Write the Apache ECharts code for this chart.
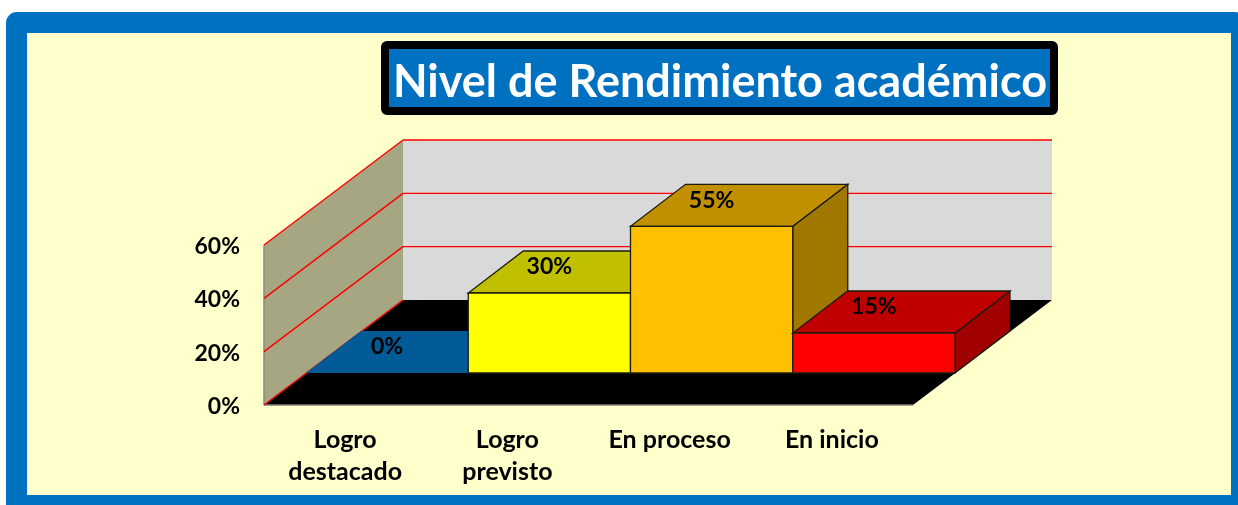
<!DOCTYPE html>
<html><head><meta charset="utf-8">
<style>html,body{margin:0;padding:0;background:#fff}#c{width:1238px;height:505px}</style>
<script src="https://cdn.jsdelivr.net/npm/echarts@6/dist/echarts.min.js"></script>
</head><body><div id="c"></div>
<script>
const titleText = 'Nivel de Rendimiento académico';
const categories = ['Logro\ndestacado', 'Logro\nprevisto', 'En proceso', 'En inicio'];
const values = [0, 30, 55, 15];
const ticks = [0, 20, 40, 60];
const frontColors = ['#0070c0', '#ffff00', '#ffc000', '#ff0000'];
const topColors = ['#005a96', '#c0c000', '#c09000', '#c00000'];
const sideColors = ['#004a7c', '#a0a000', '#a07800', '#a00000'];

const FONT = 'Lato';
const WALL = [139, -105], NEAR = [42, -32], FAR = [97, -74];
const shift = (p, o) => [p[0] + o[0], p[1] + o[1]];
const poly = (points, fill, stroke, lw, z2) => ({
  type: 'polygon', z2: z2 || 0, shape: { points },
  style: { fill, stroke: stroke || null, lineWidth: lw || 0 }
});
const seg = (a, b, stroke, lw, z2) => ({
  type: 'line', z2: z2 || 0, shape: { x1: a[0], y1: a[1], x2: b[0], y2: b[1] },
  style: { stroke, lineWidth: lw }
});

function renderWalls(params, api) {
  const last = categories.length - 1;
  const band = api.size([1, 0])[0];
  const left = api.coord([0, 0])[0] - band / 2;
  const right = api.coord([last, 0])[0] + band / 2;
  const y0 = api.coord([0, 0])[1];
  const yTop = api.coord([0, ticks[ticks.length - 1]])[1];
  const a = [left, y0], b = [right, y0], t = [left, yTop];
  const ch = [
    poly([shift(t, WALL), [right + WALL[0], yTop + WALL[1]], [right + WALL[0], y0 + WALL[1]], shift(a, WALL)], '#d9d9d9'),
    poly([t, shift(t, WALL), shift(a, WALL), a], '#a6a682'),
    poly([a, b, shift(b, WALL), shift(a, WALL)], '#000000'),
    seg(t, a, '#8a8a80', 1.5),
    seg(a, b, '#7f7f7f', 1.5)
  ];
  ticks.forEach(v => {
    const y = api.coord([0, v])[1];
    const p = [left, y], q = shift(p, WALL);
    ch.push(seg(p, q, '#ff0000', 1.4));
    if (v > 0) ch.push(seg(q, [right + WALL[0], y + WALL[1]], '#ff0000', 1.4));
  });
  return { type: 'group', children: ch };
}

function renderBar(params, api) {
  const i = api.value(0), v = api.value(1);
  const band = api.size([1, 0])[0];
  const c = api.coord([i, 0]), top = api.coord([i, v]);
  const xl = c[0] - band / 2, xr = c[0] + band / 2;
  const fl = shift([xl, c[1]], NEAR), fr = shift([xr, c[1]], NEAR);
  const tl = shift([xl, top[1]], NEAR), tr = shift([xr, top[1]], NEAR);
  const bl = shift([xl, top[1]], FAR), br = shift([xr, top[1]], FAR);
  const lowBack = shift([xr, c[1]], FAR);
  const S = '#1c1c10';
  const ch = [];
  if (v > 0) {
    ch.push(poly([tr, br, lowBack, fr], sideColors[i], S, 1.3));
    ch.push(poly([tl, tr, br, bl], topColors[i], S, 1.3));
    ch.push(poly([tl, tr, fr, fl], frontColors[i], S, 1.3));
  } else {
    ch.push(poly([tl, tr, br, bl], topColors[i]));
  }
  ch.push({
    type: 'text', z2: 5,
    style: {
      x: (fl[0] + fr[0]) / 2, y: (tl[1] + bl[1]) / 2 - 5,
      text: v + '%', fill: '#000000', align: 'center', verticalAlign: 'middle',
      font: 'bold 23px ' + FONT
    }
  });
  return { type: 'group', children: ch };
}

const chart = echarts.init(document.getElementById('c'), null, { renderer: 'canvas' });
chart.setOption({
  animation: false,
  backgroundColor: '#ffffff',
  title: {
    text: titleText, left: 393, top: 56, padding: 0,
    textStyle: { color: '#ffffff', fontFamily: FONT, fontWeight: 'bold', fontSize: 45, lineHeight: 52 }
  },
  graphic: [
    { type: 'rect', z: -10, shape: { x: 6, y: 12, width: 1240, height: 510, r: 11 }, style: { fill: '#0070c0' } },
    { type: 'rect', z: -9, shape: { x: 27, y: 33, width: 1204, height: 462 }, style: { fill: '#ffffcc' } },
    { type: 'rect', z: -8, shape: { x: 385, y: 45, width: 669, height: 66, r: 2 }, style: { fill: '#0070c0', stroke: '#000000', lineWidth: 8 } }
  ],
  grid: { left: 264, top: 245, width: 649, height: 160, containLabel: false },
  xAxis: {
    type: 'category', data: categories,
    axisLine: { show: false }, axisTick: { show: false }, splitLine: { show: false },
    axisLabel: { interval: 0, margin: 19, color: '#000000', fontFamily: FONT, fontWeight: 'bold', fontSize: 25, lineHeight: 32, align: 'center', verticalAlign: 'top' }
  },
  yAxis: {
    type: 'value', min: 0, max: 60, interval: 20,
    axisLine: { show: false }, axisTick: { show: false }, splitLine: { show: false },
    axisLabel: {
      margin: 24, formatter: '{p|{value}%}', color: '#000000',
      rich: { p: { color: '#000000', fontFamily: FONT, fontWeight: 'bold', fontSize: 23, padding: [3, 0, 0, 0] } }
    }
  },
  series: [
    { type: 'custom', silent: true, z: 2, renderItem: renderWalls, data: [[0, 0]], encode: { x: 0, y: 1 } },
    { type: 'custom', silent: true, z: 3, renderItem: renderBar, data: values.map((v, i) => [i, v]), encode: { x: 0, y: 1 } }
  ]
});
</script></body></html>
